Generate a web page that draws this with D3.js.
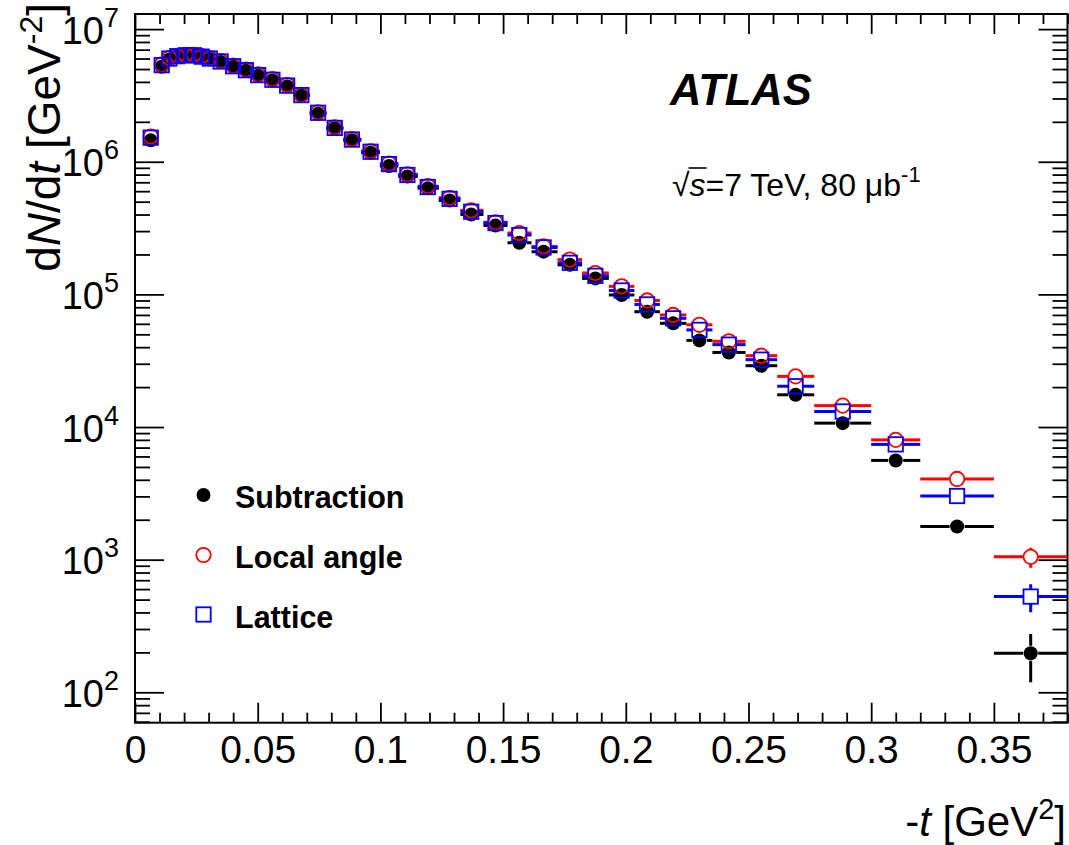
<!DOCTYPE html>
<html>
<head>
<meta charset="utf-8">
<script src="https://cdn.jsdelivr.net/npm/d3@7"></script>
<style>
  html, body { margin: 0; padding: 0; background: #fff; }
  svg { display: block; }
  text { font-family: "Liberation Sans", Arial, Helvetica, sans-serif; fill: #000; }
</style>
</head>
<body>
<svg id="chart" width="1069" height="845"></svg>
<script>
// ---------------- DATA ----------------
// bin centres of -t [GeV^2]
const tCenter = [0.0064, 0.0109, 0.0140, 0.0172, 0.0207, 0.0240, 0.0272, 0.0305, 0.0349, 0.0400,
                 0.0452, 0.0502, 0.0560, 0.0620, 0.0678, 0.0746, 0.0814, 0.0884, 0.0960, 0.1035,
                 0.1110, 0.1193, 0.1282, 0.1370, 0.1469, 0.1566, 0.1665, 0.1772, 0.1876, 0.1983,
                 0.2087, 0.2193, 0.2300, 0.2420, 0.2552, 0.2692, 0.2884, 0.3100, 0.3350, 0.3650];
// bin edges (41 values, bin i spans binEdges[i]..binEdges[i+1])
const binEdges = [0.0050, 0.0085, 0.0125, 0.0156, 0.0190, 0.0224, 0.0256, 0.0289, 0.0327, 0.0375,
                  0.0426, 0.0477, 0.0531, 0.0590, 0.0649, 0.0712, 0.0780, 0.0849, 0.0922, 0.0998,
                  0.1073, 0.1152, 0.1238, 0.1326, 0.1420, 0.1518, 0.1616, 0.1722, 0.1822, 0.1931,
                  0.2035, 0.2139, 0.2247, 0.2353, 0.2488, 0.2617, 0.2768, 0.3000, 0.3200, 0.3500, 0.3800];

const subtraction = [1.45e6, 5.2e6, 5.9e6, 6.2e6, 6.3e6, 6.3e6, 6.15e6, 5.95e6, 5.65e6, 5.2e6,
                     4.85e6, 4.45e6, 4.1e6, 3.7e6, 3.15e6, 2.3e6, 1.78e6, 1.45e6, 1.17e6, 9.3e5,
                     7.75e5, 6.3e5, 5.1e5, 4.0e5, 3.3e5, 2.45e5, 2.1e5, 1.67e5, 1.32e5, 9.9e4,
                     7.4e4, 6.05e4, 4.5e4, 3.65e4, 2.9e4, 1.75e4, 1.07e4, 5.6e3, 1.78e3, 197];
const localAngle  = [1.55e6, 5.4e6, 6.05e6, 6.3e6, 6.4e6, 6.4e6, 6.25e6, 6.05e6, 5.75e6, 5.3e6,
                     4.95e6, 4.55e6, 4.2e6, 3.8e6, 3.2e6, 2.36e6, 1.82e6, 1.48e6, 1.2e6, 9.7e5,
                     8.05e5, 6.55e5, 5.35e5, 4.3e5, 3.5e5, 2.9e5, 2.3e5, 1.83e5, 1.45e5, 1.15e5,
                     9.0e4, 7.0e4, 5.9e4, 4.43e4, 3.45e4, 2.41e4, 1.45e4, 8.0e3, 4.06e3, 1050];
const lattice     = [1.52e6, 5.35e6, 6.0e6, 6.25e6, 6.35e6, 6.35e6, 6.2e6, 6.0e6, 5.7e6, 5.25e6,
                     4.9e6, 4.5e6, 4.15e6, 3.75e6, 3.18e6, 2.34e6, 1.8e6, 1.47e6, 1.19e6, 9.6e5,
                     7.95e5, 6.45e5, 5.25e5, 4.2e5, 3.45e5, 2.8e5, 2.26e5, 1.73e5, 1.38e5, 1.07e5,
                     8.4e4, 6.6e4, 5.4e4, 4.18e4, 3.22e4, 2.03e4, 1.31e4, 7.4e3, 3.02e3, 527];

// statistical errors (absolute)
const subtractionErr = [0,0,0,0,0,0,0,0,0,0, 0,0,0,0,0,0,0,0,0,0,
                        0,0,0,0,0,0,0,0,0,0, 0,0,0,0,0,0,250,160,80,78];
const localAngleErr  = [0,0,0,0,0,0,0,0,0,0, 0,0,0,0,0,0,0,0,0,0,
                        0,0,0,0,0,0,0,0,0,0, 0,0,0,0,0,0,300,200,140,180];
const latticeErr     = [0,0,0,0,0,0,0,0,0,0, 0,0,0,0,0,0,0,0,0,0,
                        0,0,0,0,0,0,0,0,0,0, 0,0,0,0,0,0,280,190,120,125];

const seriesNames  = ["Subtraction", "Local angle", "Lattice"];
const xTickValues  = [0, 0.05, 0.1, 0.15, 0.2, 0.25, 0.3, 0.35];
const xTickLabels  = ["0", "0.05", "0.1", "0.15", "0.2", "0.25", "0.3", "0.35"];
const yTickExponents = [2, 3, 4, 5, 6, 7];

// ---------------- LAYOUT ----------------
const L = 135, R = 1067.5, T = 14, B = 722.7;
const svg = d3.select("#chart");
const x = d3.scaleLinear().domain([0, 0.38]).range([L, R]);
const y = d3.scaleLog().domain([59, 1.3e7]).range([B, T]);

const series = [
  {name: seriesNames[0], vals: subtraction, errs: subtractionErr, color: "#000000", shape: "fcircle"},
  {name: seriesNames[1], vals: localAngle,  errs: localAngleErr,  color: "#ff0000", shape: "ocircle"},
  {name: seriesNames[2], vals: lattice,     errs: latticeErr,     color: "#0000ff", shape: "osquare"}
];

// clip for data
svg.append("clipPath").attr("id", "clip").append("rect")
  .attr("x", L).attr("y", T).attr("width", R - L).attr("height", B - T);

// ---------------- AXES ----------------
const xMinor = d3.range(0, 0.381, 0.01).filter(v => !xTickValues.some(m => Math.abs(m - v) < 1e-6));
const yMinor = [];
for (let e = 1; e <= 7; e++) for (let m = 2; m <= 9; m++) {
  const v = m * Math.pow(10, e);
  if (v >= 59 && v <= 1.3e7) yMinor.push(v);
}
const yMajor = yTickExponents.map(e => Math.pow(10, e));

const axisStyle = g => { g.selectAll("path").remove(); g.selectAll("line").attr("stroke", "#000").attr("stroke-width", 1.8); };

// bottom
const gxb = svg.append("g").attr("transform", `translate(0,${B})`)
  .call(d3.axisBottom(x).tickValues(xTickValues).tickSize(-20).tickPadding(0)
        .tickFormat((d, i) => xTickLabels[i]));
axisStyle(gxb);
gxb.selectAll("text").attr("y", 40).attr("dy", 0).style("font-size", "39px").attr("fill", "#000");
svg.append("g").attr("transform", `translate(0,${B})`)
  .call(d3.axisBottom(x).tickValues(xMinor).tickSize(-10).tickFormat(""))
  .call(axisStyle);
// top
svg.append("g").attr("transform", `translate(0,${T})`)
  .call(d3.axisTop(x).tickValues(xTickValues).tickSize(-20).tickFormat("")).call(axisStyle);
svg.append("g").attr("transform", `translate(0,${T})`)
  .call(d3.axisTop(x).tickValues(xMinor).tickSize(-10).tickFormat("")).call(axisStyle);
// left
const gyl = svg.append("g").attr("transform", `translate(${L},0)`)
  .call(d3.axisLeft(y).tickValues(yMajor).tickSize(-29).tickPadding(16).tickFormat(""));
axisStyle(gyl);
gyl.selectAll(".tick text").each(function(d) {
  const t = d3.select(this).attr("dy", 14).style("font-size", "38px").attr("fill", "#000");
  t.append("tspan").text("10");
  t.append("tspan").attr("dy", -17).style("font-size", "27px").text(String(Math.round(Math.log10(d))));
});
svg.append("g").attr("transform", `translate(${L},0)`)
  .call(d3.axisLeft(y).tickValues(yMinor).tickSize(-15).tickFormat("")).call(axisStyle);
// right
svg.append("g").attr("transform", `translate(${R},0)`)
  .call(d3.axisRight(y).tickValues(yMajor).tickSize(-29).tickFormat("")).call(axisStyle);
svg.append("g").attr("transform", `translate(${R},0)`)
  .call(d3.axisRight(y).tickValues(yMinor).tickSize(-15).tickFormat("")).call(axisStyle);

// frame
svg.append("rect").attr("x", L).attr("y", T).attr("width", R - L).attr("height", B - T)
  .attr("fill", "none").attr("stroke", "#000").attr("stroke-width", 2);

// ---------------- DATA MARKS ----------------
const MS = 7.5; // marker half size
const plot = svg.append("g").attr("clip-path", "url(#clip)");
series.forEach(s => {
  const g = plot.append("g");
  const pts = s.vals.map((v, i) => ({
    cx: x(tCenter[i]), cy: y(v),
    xl: x(binEdges[i]), xh: x(binEdges[i + 1]),
    yl: y(Math.max(v - s.errs[i], 1)), yh: y(v + s.errs[i])
  }));
  const segs = [];
  pts.forEach(p => {
    if (p.cx - p.xl > MS) segs.push([p.xl, p.cy, p.cx - MS, p.cy]);
    if (p.xh - p.cx > MS) segs.push([p.cx + MS, p.cy, p.xh, p.cy]);
    if (p.cy - p.yh > MS) segs.push([p.cx, p.yh, p.cx, p.cy - MS]);
    if (p.yl - p.cy > MS) segs.push([p.cx, p.cy + MS, p.cx, p.yl]);
  });
  g.selectAll("line").data(segs).join("line")
    .attr("x1", d => d[0]).attr("y1", d => d[1]).attr("x2", d => d[2]).attr("y2", d => d[3])
    .attr("stroke", s.color).attr("stroke-width", 3);
  if (s.shape === "fcircle") {
    g.selectAll("circle").data(pts).join("circle")
      .attr("cx", d => d.cx).attr("cy", d => d.cy).attr("r", 7).attr("fill", s.color);
  } else if (s.shape === "ocircle") {
    g.selectAll("circle").data(pts).join("circle")
      .attr("cx", d => d.cx).attr("cy", d => d.cy).attr("r", 7.2)
      .attr("fill", "none").attr("stroke", s.color).attr("stroke-width", 1.8);
  } else {
    g.selectAll("rect").data(pts).join("rect")
      .attr("x", d => d.cx - 7.2).attr("y", d => d.cy - 7.2).attr("width", 14.4).attr("height", 14.4)
      .attr("fill", "none").attr("stroke", s.color).attr("stroke-width", 1.8);
  }
});

// ---------------- LEGEND ----------------
const legY = [495, 555, 614.5];
const leg = svg.append("g");
series.forEach((s, i) => {
  const cy = legY[i];
  if (s.shape === "fcircle") leg.append("circle").attr("cx", 203.5).attr("cy", cy).attr("r", 7).attr("fill", s.color);
  else if (s.shape === "ocircle") leg.append("circle").attr("cx", 203.5).attr("cy", cy).attr("r", 7.2)
    .attr("fill", "none").attr("stroke", s.color).attr("stroke-width", 1.8);
  else leg.append("rect").attr("x", 203.5 - 7.2).attr("y", cy - 7.2).attr("width", 14.4).attr("height", 14.4)
    .attr("fill", "none").attr("stroke", s.color).attr("stroke-width", 1.8);
  leg.append("text").attr("x", 235).attr("y", cy + 13).style("font-size", "30.5px").style("font-weight", "bold")
    .text(s.name);
});

// ---------------- TEXT ----------------
svg.append("text").attr("x", 670).attr("y", 105).style("font-size", "43.5px")
  .style("font-weight", "bold").style("font-style", "italic").text("ATLAS");

const info = svg.append("text").attr("x", 672).attr("y", 196).style("font-size", "32px");
info.append("tspan").text("\u221A");
info.append("tspan").style("font-style", "italic").text("s");
info.append("tspan").text("=7 TeV, 80 \u03BCb");
info.append("tspan").attr("dy", -14).style("font-size", "22px").text("-1");
{
  const n = info.node();
  const s0 = n.getStartPositionOfChar(1).x, s1 = n.getEndPositionOfChar(1).x;
  svg.append("line").attr("x1", s0 - 1).attr("x2", s1 + 1).attr("y1", 168).attr("y2", 168)
    .attr("stroke", "#000").attr("stroke-width", 1.6);
}

// x title
const xt = svg.append("text").attr("x", 1066).attr("y", 836).attr("text-anchor", "end").style("font-size", "42px");
xt.append("tspan").text("-");
xt.append("tspan").style("font-style", "italic").text("t");
xt.append("tspan").text(" [GeV");
xt.append("tspan").attr("dy", -17).style("font-size", "29px").text("2");
xt.append("tspan").attr("dy", 17).text("]");

// y title
const yt = svg.append("text").attr("transform", "translate(60,3) rotate(-90)")
  .attr("text-anchor", "end").style("font-size", "46px");
yt.append("tspan").text("d");
yt.append("tspan").style("font-style", "italic").text("N");
yt.append("tspan").text("/d");
yt.append("tspan").style("font-style", "italic").text("t");
yt.append("tspan").text(" [GeV");
yt.append("tspan").attr("dy", -18).style("font-size", "32px").text("-2");
yt.append("tspan").attr("dy", 18).text("]");
</script>
</body>
</html>
